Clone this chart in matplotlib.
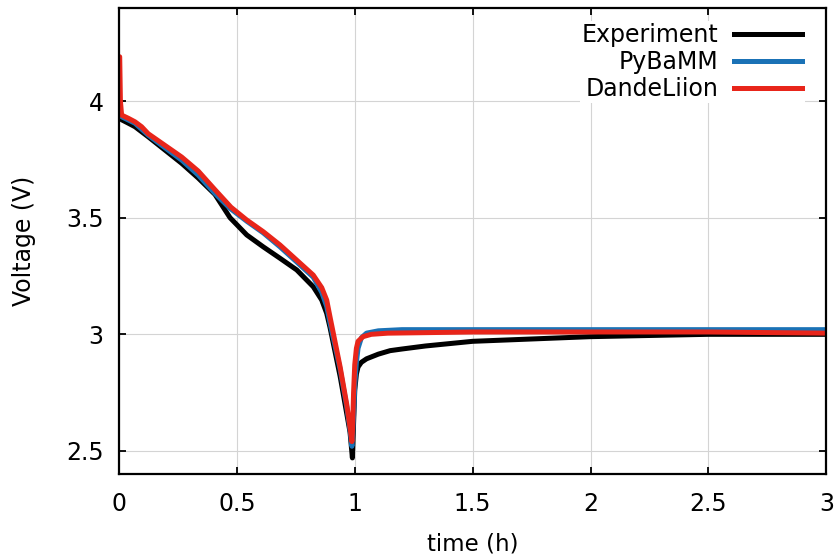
import numpy as np
import matplotlib.pyplot as plt

# Dades llegides de la figura (temps en hores, tensio en volts)
t_exp = [0, 0.005, 0.011, 0.04, 0.068, 0.124, 0.195, 0.266, 0.336, 0.407, 0.471, 0.542,
         0.612, 0.683, 0.754, 0.824, 0.86, 0.881, 0.895, 0.938, 0.966, 0.98, 0.99,
         0.995, 1.0, 1.007, 1.014, 1.028, 1.05, 1.1, 1.15, 1.2, 1.3, 1.5, 1.75, 2.0,
         2.5, 3.0]
v_exp = [4.00, 3.95, 3.92, 3.905, 3.89, 3.847, 3.79, 3.733, 3.67, 3.60, 3.50, 3.426,
         3.375, 3.326, 3.276, 3.204, 3.147, 3.09, 3.03, 2.82, 2.66, 2.58, 2.47,
         2.62, 2.76, 2.83, 2.86, 2.88, 2.895, 2.915, 2.93, 2.937, 2.95, 2.97, 2.98, 2.99,
         3.0, 3.0]

t_pyb = [0, 0.005, 0.011, 0.068, 0.124, 0.195, 0.266, 0.336, 0.407, 0.471, 0.542, 0.612,
         0.683, 0.754, 0.824, 0.86, 0.881, 0.895, 0.938, 0.966, 0.98, 0.988, 0.995,
         1.0, 1.007, 1.014, 1.028, 1.05, 1.1, 1.2, 1.5, 2.0, 2.5, 3.0]
v_pyb = [4.00, 3.96, 3.933, 3.905, 3.854, 3.80, 3.747, 3.683, 3.604, 3.54, 3.485, 3.435,
         3.375, 3.31, 3.245, 3.18, 3.12, 3.05, 2.85, 2.69, 2.59, 2.52, 2.65,
         2.78, 2.88, 2.94, 2.985, 3.005, 3.015, 3.02, 3.02, 3.02, 3.02, 3.02]

t_dan = [0, 0.003, 0.006, 0.011, 0.04, 0.068, 0.096, 0.124, 0.195, 0.266, 0.336, 0.407,
         0.475, 0.542, 0.612, 0.683, 0.754, 0.824, 0.86, 0.881, 0.895, 0.938, 0.966,
         0.98, 0.988, 0.991, 0.995, 1.0, 1.007, 1.014, 1.035, 1.07, 1.14, 1.5, 2.0,
         2.5, 3.0]
v_dan = [4.19, 4.19, 4.00, 3.94, 3.926, 3.911, 3.89, 3.86, 3.81, 3.76, 3.70, 3.62,
         3.545, 3.49, 3.44, 3.383, 3.318, 3.254, 3.20, 3.147, 3.075, 2.86, 2.70,
         2.60, 2.54, 2.60, 2.75, 2.87, 2.94, 2.97, 2.99, 3.0, 3.005, 3.01, 3.01,
         3.01, 3.005]

x_ticks = [0, 0.5, 1, 1.5, 2, 2.5, 3]
x_labels = ['0', '0.5', '1', '1.5', '2', '2.5', '3']
y_ticks = [2.5, 3, 3.5, 4]
y_labels = ['2.5', '3', '3.5', '4']

plt.rcParams['font.family'] = 'DejaVu Sans'
plt.rcParams['font.size'] = 17

fig = plt.figure(figsize=(8.38, 5.56), dpi=100)
ax = fig.add_axes([0.142, 0.147, 0.844, 0.839])

ax.plot(t_exp, v_exp, color='black', lw=3.6, label='Experiment', solid_joinstyle='round')
ax.plot(t_pyb, v_pyb, color='#1a72b6', lw=3.6, label='PyBaMM', solid_joinstyle='round')
ax.plot(t_dan, v_dan, color='#e8251a', lw=3.6, label='DandeLiion', solid_joinstyle='round')

ax.set_xlim(0, 3)
ax.set_ylim(2.4, 4.4)
ax.set_xticks(x_ticks, x_labels)
ax.set_yticks(y_ticks, y_labels)
ax.grid(True, color='#d4d4d4', lw=0.8)
ax.set_axisbelow(True)
ax.tick_params(direction='in', length=5, width=1.3, top=True, right=True,
               labelsize=17)
ax.tick_params(axis='x', pad=13)
ax.tick_params(axis='y', pad=11)
for s in ax.spines.values():
    s.set_linewidth(1.6)

ax.set_xlabel('time (h)', fontsize=16.5, labelpad=12)
ax.set_ylabel('Voltage (V)', fontsize=17, labelpad=22)

leg = ax.legend(loc='upper right', bbox_to_anchor=(0.986, 0.997), markerfirst=False,
                handlelength=2.9, handletextpad=0.64, labelspacing=0.12,
                frameon=True, fancybox=False, framealpha=1, borderpad=0.1)
leg.get_frame().set_edgecolor('none')
leg.get_frame().set_facecolor('white')

plt.savefig('out.png', dpi=100)
